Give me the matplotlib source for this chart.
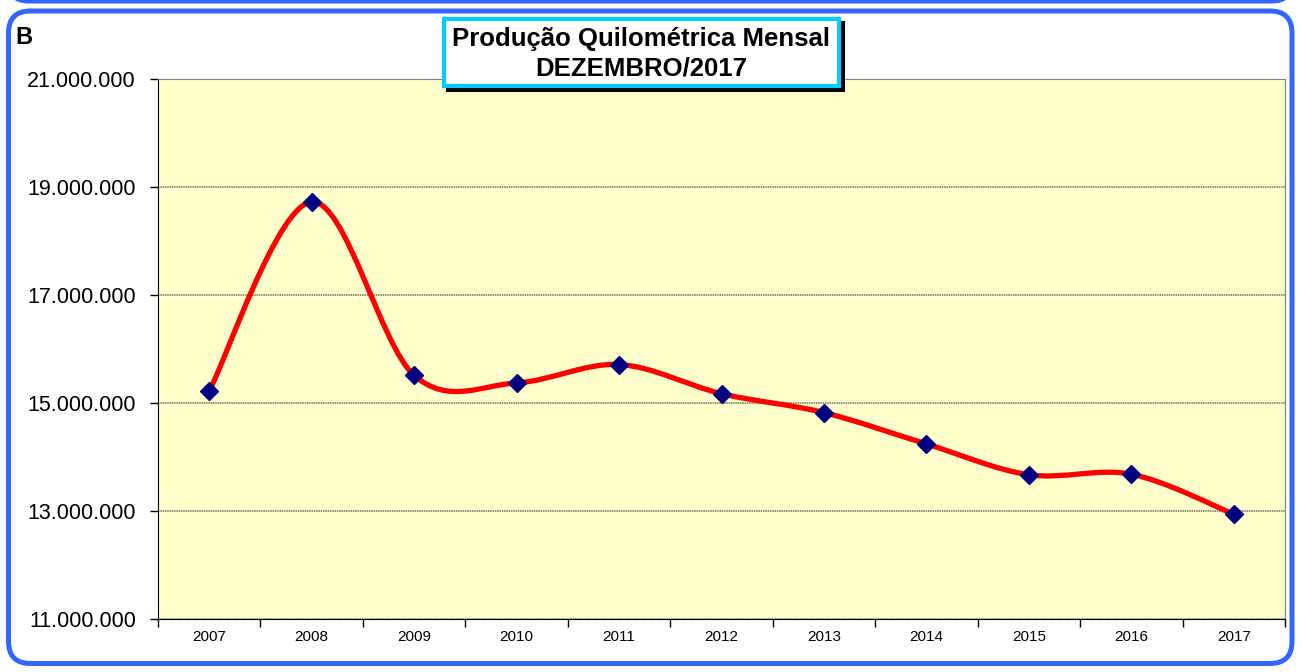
"""Produção Quilométrica Mensal - Dezembro/2017

Line chart (smoothed, Excel style) of the monthly km production per year.
"""
import matplotlib
matplotlib.use("Agg")
import matplotlib.pyplot as plt
from matplotlib.patches import FancyBboxPatch, Rectangle, PathPatch
from matplotlib.path import Path
from matplotlib.ticker import FixedLocator, FuncFormatter, NullFormatter

plt.rcParams['font.family'] = ['Liberation Sans', 'DejaVu Sans']

# Data
years = ["2007", "2008", "2009", "2010", "2011", "2012",
         "2013", "2014", "2015", "2016", "2017"]
km_values = [15220000, 18720000, 15510000, 15370000, 15710000, 15170000,
             14820000, 14240000, 13670000, 13680000, 12940000]
y_ticks = [11000000, 13000000, 15000000, 17000000, 19000000, 21000000]
title_lines = ["Produção Quilométrica Mensal", "DEZEMBRO/2017"]
panel_label = "B"

W, H = 1303, 672
FRAME_BLUE = '#3366FF'
TITLE_CYAN = '#00CCFF'
PLOT_BG = '#FFFFCC'


def smooth_path(xs, ys):
    """Build a Catmull-Rom like Bezier path (similar to Excel smoothed lines)"""
    pts = list(zip(xs, ys))
    n = len(pts)
    verts = [pts[0]]
    codes = [Path.MOVETO]
    for i in range(n - 1):
        p0 = pts[i - 1] if i > 0 else pts[i]
        p1 = pts[i]
        p2 = pts[i + 1]
        p3 = pts[i + 2] if i + 2 < n else pts[i + 1]
        c1 = (p1[0] + (p2[0] - p0[0]) / 6.0, p1[1] + (p2[1] - p0[1]) / 6.0)
        c2 = (p2[0] - (p3[0] - p1[0]) / 6.0, p2[1] - (p3[1] - p1[1]) / 6.0)
        verts += [c1, c2, p2]
        codes += [Path.CURVE4] * 3
    return Path(verts, codes)


fig = plt.figure(figsize=(W / 100, H / 100), dpi=100)

# Background decorations in pixel coordinates
deco = fig.add_axes([0, 0, 1, 1], zorder=0)
deco.set_xlim(0, W)
deco.set_ylim(H, 0)
deco.axis('off')
# bottom of the previous panel
deco.add_patch(FancyBboxPatch((8.5, -80), 1283.5, 81, boxstyle="round,pad=0,rounding_size=20",
                              facecolor='white', edgecolor=FRAME_BLUE, linewidth=3.6))
# frame of this panel
deco.add_patch(FancyBboxPatch((8.5, 11), 1283.5, 652.5, boxstyle="round,pad=0,rounding_size=22",
                              facecolor='white', edgecolor=FRAME_BLUE, linewidth=3.6))
deco.text(15, 37, panel_label, fontsize=17, fontweight='bold', va='center', ha='left')

# Main chart
ax = fig.add_axes([158 / W, 1 - 619 / H, (1285 - 158) / W, (619 - 78.7) / H], zorder=1)
ax.set_facecolor(PLOT_BG)
x = list(range(len(years)))
ax.add_patch(PathPatch(smooth_path(x, km_values), facecolor='none', edgecolor='#FF0000',
                       linewidth=3.8, capstyle='round', joinstyle='round', zorder=3))
ax.plot(x, km_values, linestyle='none', marker='D', markersize=9.5,
        markerfacecolor='#000080', markeredgecolor='#000080', zorder=4)

ax.set_xlim(-0.5, len(years) - 0.5)
ax.set_ylim(y_ticks[0], y_ticks[-1])

# x axis: ticks between categories, labels centred on categories
ax.xaxis.set_major_locator(FixedLocator([i - 0.5 for i in range(len(years) + 1)]))
ax.xaxis.set_major_formatter(NullFormatter())
ax.xaxis.set_minor_locator(FixedLocator(x))
ax.set_xticklabels(years, minor=True)
ax.tick_params(axis='x', which='major', direction='out', length=6, width=1, color='black')
ax.tick_params(axis='x', which='minor', length=0, pad=8, labelsize=11)

ax.set_yticks(y_ticks)
ax.yaxis.set_major_formatter(FuncFormatter(lambda v, p: f"{v:,.0f}".replace(",", ".")))
ax.tick_params(axis='y', direction='out', length=6, width=1, pad=10, labelsize=15.5)

ax.yaxis.grid(True, color='#707070', linewidth=1.1, linestyle=(0, (1, 0.5)))
ax.set_axisbelow(True)
ax.spines['left'].set_color('black')
ax.spines['bottom'].set_color('black')
ax.spines['top'].set_color('#808080')
ax.spines['right'].set_color('#808080')

# Title box on top
over = fig.add_axes([0, 0, 1, 1], zorder=3)
over.set_xlim(0, W)
over.set_ylim(H, 0)
over.axis('off')
over.patch.set_alpha(0)
over.add_patch(Rectangle((446, 21), 399, 71, facecolor='black', edgecolor='none'))
over.add_patch(Rectangle((443.5, 19), 395, 67, facecolor='white', edgecolor=TITLE_CYAN, linewidth=3))
over.text(641, 39, title_lines[0], fontsize=18.5, fontweight='bold', ha='center', va='center')
over.text(641, 69, title_lines[1], fontsize=18.5, fontweight='bold', ha='center', va='center')

fig.savefig("out.png", dpi=100)
